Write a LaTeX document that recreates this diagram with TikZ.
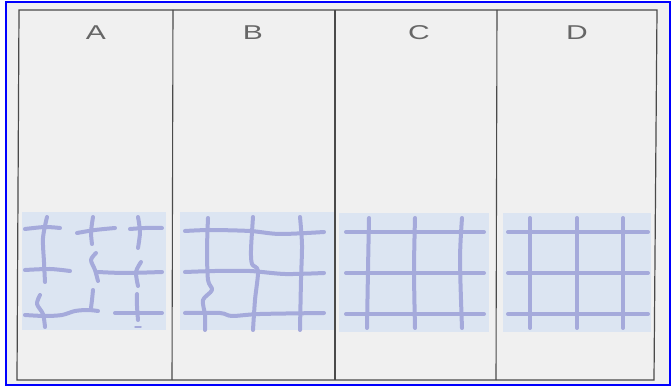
\documentclass[tikz,border=0pt]{standalone}
\usepackage{fontspec}
\setmainfont{Liberation Sans}
\definecolor{gridline}{HTML}{A5AADB}
\definecolor{gridfill}{HTML}{DCE5F2}
\definecolor{paper}{HTML}{F0F0F0}
\definecolor{framegray}{HTML}{4A4A4A}

\newcommand{\var}{
\def\ya{232}   % grid rows
\def\yb{273}
\def\yc{314}
\def\ytop{218} % grid columns run from here ...
\def\ybot{328} % ... down to here
}
\newcommand{\lw}{4pt}

\tikzset{
  gridln/.style={gridline,line width=\lw,line cap=round,line join=round},
  lbl/.style={text=black!60,font=\fontsize{20}{20}\selectfont,xscale=1.5,inner sep=0pt},
  panelfill/.style={fill=gridfill,draw=none}
}

\begin{document}
\begin{tikzpicture}[x=1pt,y=-1pt]
  \var
  \useasboundingbox (0,0) rectangle (672,387);
  \draw[blue,line width=2pt,fill=paper] (6,2) rectangle (670,385);

  % light blue squares of cloth
  \fill[panelfill] (22,212) rectangle (166,330);
  \fill[panelfill] (180,212) rectangle (334,330);
  \fill[panelfill] (339,213) rectangle (489,332);
  \fill[panelfill] (503,213) rectangle (651,332);

  % frame and dividers
  \draw[framegray,line width=1.2pt] (19,10) -- (657,10) -- (654,380) -- (17,380) -- cycle;
  \draw[framegray,line width=1.1pt] (173,10) -- (172,380);
  \draw[framegray,line width=1.1pt] (335,10) -- (335,380);
  \draw[framegray,line width=1.1pt] (497,10) -- (496,380);

  \node[lbl] (labA) at (96,33) {A};
  \node[lbl] (labB) at (253,33) {B};
  \node[lbl] (labC) at (419,33) {C};
  \node[lbl] (labD) at (577,33) {D};

  % A: broken pieces
  \draw[gridln] plot[smooth] coordinates {(25,229) (45,227) (60,228)};
  \draw[gridln] plot[smooth] coordinates {(47,217) (43,238) (44,262) (45,282)};
  \draw[gridln] plot[smooth] coordinates {(25,270) (50,269) (70,271)};
  \draw[gridln] plot[smooth] coordinates {(40,295) (37,304) (43,314) (45,327)};
  \draw[gridln] plot[smooth] coordinates {(25,315) (45,316) (62,315) (75,311) (88,310) (98,311)};
  \draw[gridln] plot[smooth] coordinates {(93,217) (91,232) (92,244)};
  \draw[gridln] plot[smooth] coordinates {(77,233) (95,230) (115,228)};
  \draw[gridln] plot[smooth] coordinates {(96,253) (91,260) (95,270) (98,281)};
  \draw[gridln] plot[smooth] coordinates {(98,272) (125,273) (162,272)};
  \draw[gridln] plot[smooth] coordinates {(93,290) (92,300) (91,308)};
  \draw[gridln] plot[smooth] coordinates {(138,217) (140,232) (138,248)};
  \draw[gridln] plot[smooth] coordinates {(130,229) (145,228) (162,228)};
  \draw[gridln] plot[smooth] coordinates {(141,262) (136,272) (138,286)};
  \draw[gridln] plot[smooth] coordinates {(137,294) (137,306) (138,320)};
  \draw[gridln] plot[smooth] coordinates {(115,313) (140,313) (162,313)};
  \draw[gridln,line width=1.5pt] (135,327) -- (141,327);

  % B: wavy grid
  \draw[gridln] plot[smooth] coordinates {(185,231) (210,230) (250,231) (280,234) (324,232)};
  \draw[gridln] plot[smooth] coordinates {(185,272) (215,271) (250,271) (285,274) (324,273)};
  \draw[gridln] plot[smooth] coordinates {(185,313) (220,313) (232,316) (260,314) (324,313)};
  \draw[gridln] plot[smooth] coordinates {(208,218) (207,250) (208,280) (212,290) (203,300) (205,315) (205,330)};
  \draw[gridln] plot[smooth] coordinates {(253,217) (251,250) (252,264) (258,271) (255,300) (253,330)};
  \draw[gridln] plot[smooth] coordinates {(300,217) (302,245) (301,280) (300,330)};

  % C: nearly straight
  \draw[gridln] (346,\ya) -- (484,\ya);
  \draw[gridln] (346,\yb) -- (484,\yb);
  \draw[gridln] (346,\yc) -- (484,\yc);
  \draw[gridln] plot[smooth] coordinates {(369,\ytop) (368,270) (367,\ybot)};
  \draw[gridln] plot[smooth] coordinates {(415,\ytop) (414,270) (415,\ybot)};
  \draw[gridln] plot[smooth] coordinates {(462,\ytop) (460,260) (462,\ybot)};

  % D: straight grid
  \draw[gridln] (508,\ya) -- (648,\ya);
  \draw[gridln] (508,\yb) -- (648,\yb);
  \draw[gridln] (508,\yc) -- (648,\yc);
  \draw[gridln] (530,\ytop) -- (530,\ybot);
  \draw[gridln] (577,\ytop) -- (577,\ybot);
  \draw[gridln] (623,\ytop) -- (623,\ybot);
\end{tikzpicture}
\end{document}
